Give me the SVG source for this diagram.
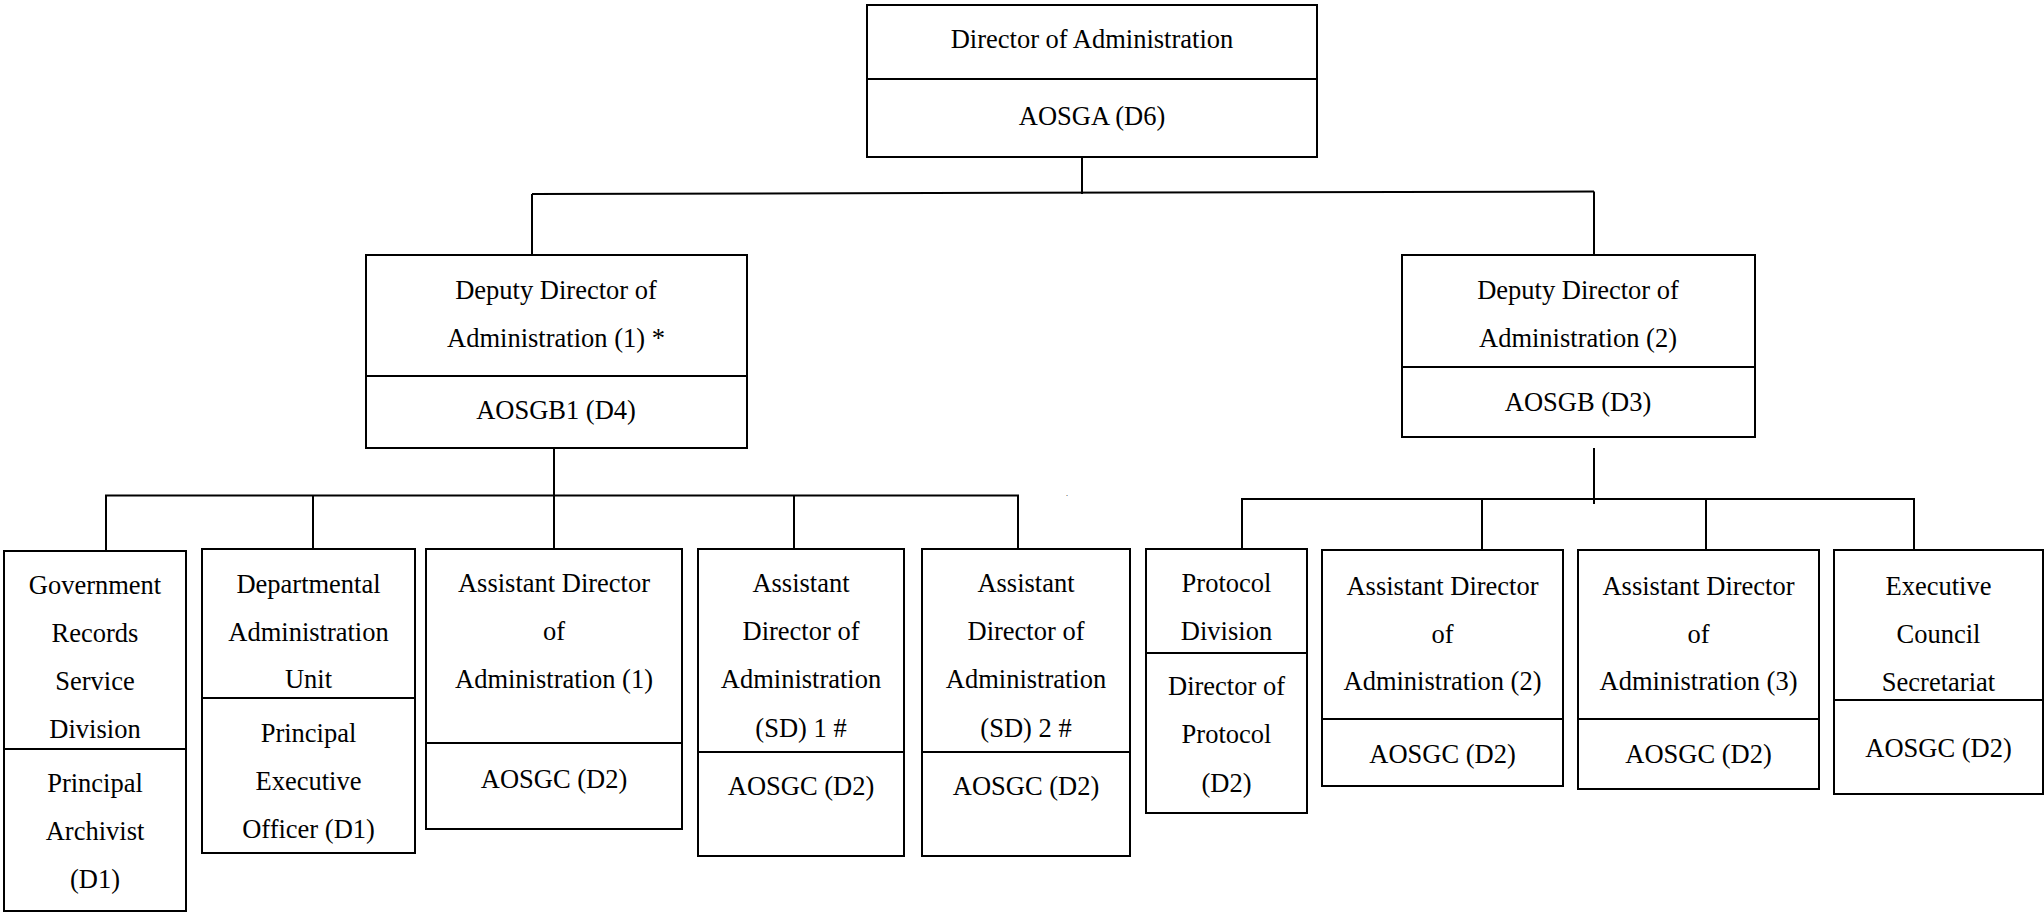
<svg xmlns="http://www.w3.org/2000/svg" width="2044" height="912" viewBox="0 0 2044 912">
<style>
.bx{fill:#fff;stroke:#000;stroke-width:2}
.dv{stroke:#000;stroke-width:2}
.cn{stroke:#000;stroke-width:2;fill:none}
.t text{font-size:26.5px;fill:#000;text-anchor:middle}
</style>
<rect width="2044" height="912" fill="#fff"/>
<g id="connectors">
<line class="cn" x1="1082" y1="157" x2="1082" y2="194"/>
<line class="cn" x1="532" y1="194" x2="1594" y2="191.5"/>
<line class="cn" x1="532" y1="194" x2="532" y2="255"/>
<line class="cn" x1="1594" y1="191.5" x2="1594" y2="255"/>
<line class="cn" x1="554" y1="448" x2="554" y2="549"/>
<polyline class="cn" points="106,551 106,495.5 1018,495.5 1018,549"/>
<line class="cn" x1="313" y1="495.5" x2="313" y2="549"/>
<line class="cn" x1="794" y1="495.5" x2="794" y2="549"/>
<line class="cn" x1="1594" y1="448" x2="1594" y2="504"/>
<polyline class="cn" points="1242,549 1242,499 1914,499 1914,550"/>
<line class="cn" x1="1482" y1="499" x2="1482" y2="550"/>
<line class="cn" x1="1706" y1="499" x2="1706" y2="550"/>
</g>
<g class="t" font-family="Liberation Serif, Tinos, DejaVu Serif, Times New Roman, serif">
<g id="director">
<rect class="bx" x="867" y="5" width="450" height="152"/>
<line class="dv" x1="867" y1="79" x2="1317" y2="79"/>
<text x="1092" y="48">Director of Administration</text>
<text x="1092" y="125">AOSGA (D6)</text>
</g>
<g id="deputy1">
<rect class="bx" x="366" y="255" width="381" height="193"/>
<line class="dv" x1="366" y1="376" x2="747" y2="376"/>
<text x="556" y="299">Deputy Director of</text>
<text x="556" y="347">Administration (1) *</text>
<text x="556" y="419">AOSGB1 (D4)</text>
</g>
<g id="deputy2">
<rect class="bx" x="1402" y="255" width="353" height="182"/>
<line class="dv" x1="1402" y1="367" x2="1755" y2="367"/>
<text x="1578" y="299">Deputy Director of</text>
<text x="1578" y="347">Administration (2)</text>
<text x="1578" y="411">AOSGB (D3)</text>
</g>
<g id="grs">
<rect class="bx" x="4" y="551" width="182" height="360"/>
<line class="dv" x1="4" y1="749" x2="186" y2="749"/>
<text x="95" y="594">Government</text>
<text x="95" y="642">Records</text>
<text x="95" y="690">Service</text>
<text x="95" y="738">Division</text>
<text x="95" y="792">Principal</text>
<text x="95" y="840">Archivist</text>
<text x="95" y="888">(D1)</text>
</g>
<g id="dau">
<rect class="bx" x="202" y="549" width="213" height="304"/>
<line class="dv" x1="202" y1="698" x2="415" y2="698"/>
<text x="308.5" y="593">Departmental</text>
<text x="308.5" y="641">Administration</text>
<text x="308.5" y="688">Unit</text>
<text x="308.5" y="742">Principal</text>
<text x="308.5" y="790">Executive</text>
<text x="308.5" y="838">Officer (D1)</text>
</g>
<g id="ad1">
<rect class="bx" x="426" y="549" width="256" height="280"/>
<line class="dv" x1="426" y1="743" x2="682" y2="743"/>
<text x="554" y="592">Assistant Director</text>
<text x="554" y="640">of</text>
<text x="554" y="688">Administration (1)</text>
<text x="554" y="788">AOSGC (D2)</text>
</g>
<g id="adsd1">
<rect class="bx" x="698" y="549" width="206" height="307"/>
<line class="dv" x1="698" y1="752" x2="904" y2="752"/>
<text x="801" y="592">Assistant</text>
<text x="801" y="640">Director of</text>
<text x="801" y="688">Administration</text>
<text x="801" y="737">(SD) 1 #</text>
<text x="801" y="795">AOSGC (D2)</text>
</g>
<g id="adsd2">
<rect class="bx" x="922" y="549" width="208" height="307"/>
<line class="dv" x1="922" y1="752" x2="1130" y2="752"/>
<text x="1026" y="592">Assistant</text>
<text x="1026" y="640">Director of</text>
<text x="1026" y="688">Administration</text>
<text x="1026" y="737">(SD) 2 #</text>
<text x="1026" y="795">AOSGC (D2)</text>
</g>
<text x="1067" y="496" style="font-size:8px">.</text>
<g id="protocol">
<rect class="bx" x="1146" y="549" width="161" height="264"/>
<line class="dv" x1="1146" y1="653" x2="1307" y2="653"/>
<text x="1226.5" y="592">Protocol</text>
<text x="1226.5" y="640">Division</text>
<text x="1226.5" y="695">Director of</text>
<text x="1226.5" y="743">Protocol</text>
<text x="1226.5" y="792">(D2)</text>
</g>
<g id="ad2">
<rect class="bx" x="1322" y="550" width="241" height="236"/>
<line class="dv" x1="1322" y1="719" x2="1563" y2="719"/>
<text x="1442.5" y="595">Assistant Director</text>
<text x="1442.5" y="643">of</text>
<text x="1442.5" y="690">Administration (2)</text>
<text x="1442.5" y="763">AOSGC (D2)</text>
</g>
<g id="ad3">
<rect class="bx" x="1578" y="550" width="241" height="239"/>
<line class="dv" x1="1578" y1="719" x2="1819" y2="719"/>
<text x="1698.5" y="595">Assistant Director</text>
<text x="1698.5" y="643">of</text>
<text x="1698.5" y="690">Administration (3)</text>
<text x="1698.5" y="763">AOSGC (D2)</text>
</g>
<g id="exco">
<rect class="bx" x="1834" y="550" width="209" height="244"/>
<line class="dv" x1="1834" y1="700" x2="2043" y2="700"/>
<text x="1938.5" y="595">Executive</text>
<text x="1938.5" y="643">Council</text>
<text x="1938.5" y="691">Secretariat</text>
<text x="1938.5" y="757">AOSGC (D2)</text>
</g>
</g>
</svg>
